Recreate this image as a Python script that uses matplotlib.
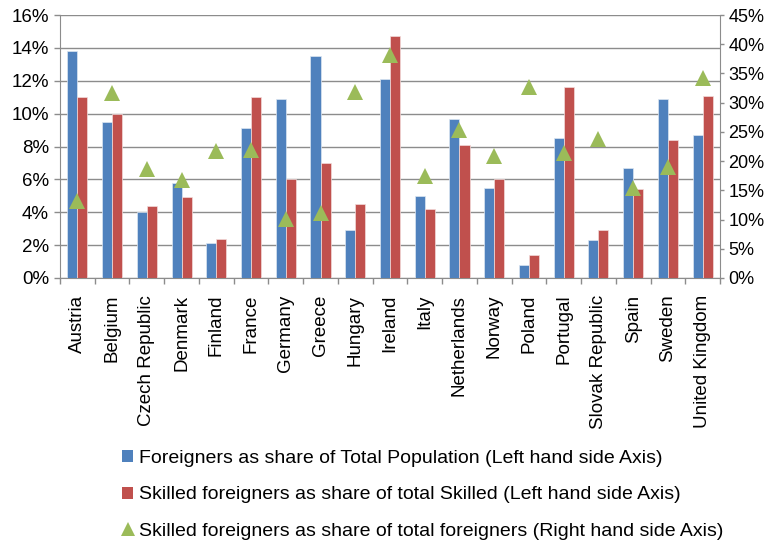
import matplotlib
matplotlib.use("Agg")
import matplotlib.pyplot as plt
from matplotlib.patches import Patch
from matplotlib.lines import Line2D
from matplotlib.ticker import FuncFormatter, MultipleLocator
import numpy as np

plt.rcParams['font.family'] = ['Liberation Sans', 'DejaVu Sans']

countries = ["Austria", "Belgium", "Czech Republic", "Denmark", "Finland", "France",
             "Germany", "Greece", "Hungary", "Ireland", "Italy", "Netherlands",
             "Norway", "Poland", "Portugal", "Slovak Republic", "Spain", "Sweden",
             "United Kingdom"]

# Left-hand axis (%)
foreigners_share_pop = [13.8, 9.5, 4.0, 5.8, 2.1, 9.1, 10.9, 13.5, 2.9, 12.1, 5.0, 9.7,
                        5.5, 0.8, 8.5, 2.3, 6.7, 10.9, 8.7]
skilled_foreigners_share_skilled = [11.0, 10.0, 4.4, 4.9, 2.4, 11.0, 6.0, 7.0, 4.5, 14.7,
                                    4.2, 8.1, 6.0, 1.4, 11.6, 2.9, 5.4, 8.4, 11.1]
# Right-hand axis (%)
skilled_share_foreigners = [13.2, 31.6, 18.6, 16.8, 21.7, 21.9, 10.1, 11.1, 31.9, 38.1,
                            17.4, 25.4, 20.9, 32.6, 21.4, 23.8, 15.4, 19.0, 34.2]

legend_labels = ["Foreigners as share of Total Population (Left hand side Axis)",
                 "Skilled foreigners as share of total Skilled (Left hand side Axis)",
                 "Skilled foreigners as share of total foreigners (Right hand side Axis)"]

BLUE = "#4F81BD"
RED = "#C0504D"
GREEN = "#9BBB59"
GRID = "#8C8C8C"
FS = 13.5

W, H = 767, 541
fig = plt.figure(figsize=(W / 100, H / 100), dpi=100)
ax = fig.add_axes([60 / W, (H - 278) / H, (720 - 60) / W, (278 - 15) / H])
ax2 = ax.twinx()

x = np.arange(len(countries))
bw = 0.29
ax.bar(x - bw / 2, foreigners_share_pop, width=bw, color=BLUE, edgecolor="#DCE6F2",
       linewidth=0.5, zorder=3)
ax.bar(x + bw / 2, skilled_foreigners_share_skilled, width=bw, color=RED,
       edgecolor="#F2DCDB", linewidth=0.5, zorder=3)
ax2.plot(x, skilled_share_foreigners, linestyle="none", marker="^", markersize=11,
         color=GREEN, markeredgewidth=0, zorder=4)

ax.set_xlim(-0.5, len(countries) - 0.5)
ax.set_ylim(0, 16)
ax2.set_ylim(0, 45)
ax.yaxis.set_major_locator(MultipleLocator(2))
ax2.yaxis.set_major_locator(MultipleLocator(5))
pct = FuncFormatter(lambda v, _: f"{v:.0f}%")
ax.yaxis.set_major_formatter(pct)
ax2.yaxis.set_major_formatter(pct)

ax.grid(axis="y", color=GRID, linewidth=1.0, zorder=0)
ax.set_axisbelow(True)

# Category ticks sit between groups; labels are centred under each group
ax.set_xticks(np.arange(len(countries) + 1) - 0.5)
ax.set_xticklabels([])
ax.set_xticks(x, minor=True)
ax.set_xticklabels(countries, minor=True, rotation=90, fontsize=FS, va="top", ha="center")
ax.tick_params(axis="x", which="major", length=4, color=GRID, width=1)
ax.tick_params(axis="x", which="minor", length=0, pad=12)
ax.tick_params(axis="y", length=4, color=GRID, width=1, labelsize=FS, pad=4)
ax2.tick_params(axis="y", length=3, color=GRID, width=1, labelsize=13, pad=3)

for a in (ax, ax2):
    for s in a.spines.values():
        s.set_visible(False)
    a.spines["left"].set_visible(a is ax)
    a.spines["right"].set_visible(a is ax2)
    a.spines["bottom"].set_visible(a is ax)
    a.spines["left"].set_color(GRID)
    a.spines["right"].set_color(GRID)
    a.spines["bottom"].set_color(GRID)

handles = [Patch(facecolor=BLUE, edgecolor="none"),
           Patch(facecolor=RED, edgecolor="none"),
           Line2D([], [], linestyle="none", marker="^", markersize=9.5, color=GREEN,
                  markeredgewidth=0)]
fig.legend(handles, legend_labels, loc="upper left", bbox_to_anchor=(122 / W, 1 - 450 / H),
           frameon=False, fontsize=14, handlelength=0.58, handleheight=0.58,
           handletextpad=0.27, labelspacing=1.0, borderaxespad=0, borderpad=0)

fig.savefig("out.png", dpi=100, facecolor="white")
